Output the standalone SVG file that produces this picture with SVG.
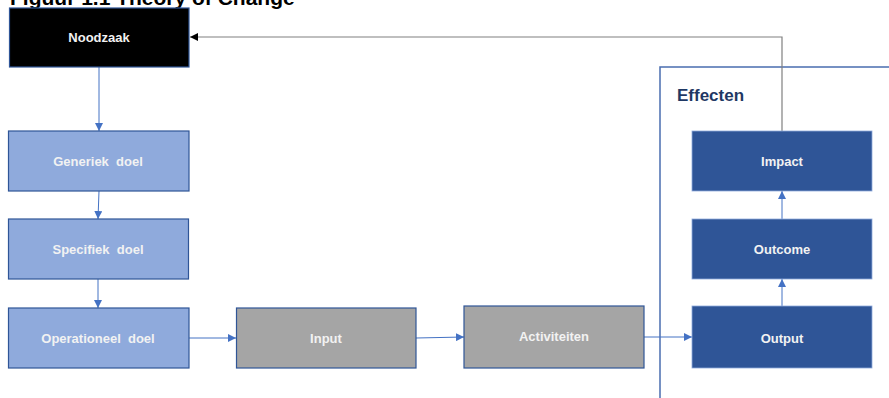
<svg xmlns="http://www.w3.org/2000/svg" width="889" height="398" viewBox="0 0 889 398">
<defs>
<style>
.t{font-family:"Liberation Sans",Arial,sans-serif;font-weight:bold;font-size:13px;fill:#F2F2F2;text-anchor:middle;white-space:pre}
.goal{fill:#8FAADC;stroke:#2F5597;stroke-width:1.2}
.act{fill:#A5A5A5;stroke:#2F5597;stroke-width:1.2}
.eff{fill:#2F5597;stroke:#8FAADC;stroke-width:0.8}
.c{fill:none;stroke:#4472C4;stroke-width:1;marker-end:url(#ab)}
</style>
<marker id="ab" viewBox="0 0 10 10" refX="10" refY="5" markerWidth="8" markerHeight="8" markerUnits="userSpaceOnUse" orient="auto"><path d="M0,0L10,5L0,10z" fill="#4472C4"/></marker>
<marker id="ag" viewBox="0 0 10 10" refX="10" refY="5" markerWidth="8" markerHeight="8" markerUnits="userSpaceOnUse" orient="auto"><path d="M0,0L10,5L0,10z" fill="#000"/></marker>
</defs>
<rect width="889" height="398" fill="#fff"/>
<text x="10" y="4.5" font-family="'Liberation Sans',Arial,sans-serif" font-weight="bold" font-size="21" fill="#000">Figuur 1.1 Theory of Change</text>
<g id="frame">
<path d="M889,67H660V398" fill="none" stroke="#4A6DB0" stroke-width="1.5"/>
<text x="677" y="101" font-family="'Liberation Sans',Arial,sans-serif" font-weight="bold" font-size="17" fill="#1F3864">Effecten</text>
</g>
<g id="connectors">
<path d="M782,131V37H190" fill="none" stroke="#808080" stroke-width="1.2" marker-end="url(#ag)"/>
<path class="c" d="M99,67V131"/>
<path class="c" d="M99,191L98,219"/>
<path class="c" d="M98,279L98,308"/>
<path class="c" d="M189,338H236"/>
<path class="c" d="M416,338L464,337"/>
<path class="c" d="M644,337H692"/>
<path class="c" d="M782,306V279"/>
<path class="c" d="M782,219V191"/>
</g>
<g id="noodzaak"><rect x="9.5" y="8" width="179.5" height="59" fill="#000" stroke="#2F5597" stroke-width="1.2"/><text class="t" x="99" y="42">Noodzaak</text></g>
<g id="generiek"><rect class="goal" x="8.5" y="131" width="180.5" height="60"/><text class="t" x="98" y="166" xml:space="preserve">Generiek  doel</text></g>
<g id="specifiek"><rect class="goal" x="8.5" y="219" width="180" height="60"/><text class="t" x="98" y="254" xml:space="preserve">Specifiek  doel</text></g>
<g id="operationeel"><rect class="goal" x="8.5" y="308" width="180.5" height="60"/><text class="t" x="98" y="343" xml:space="preserve">Operationeel  doel</text></g>
<g id="input"><rect class="act" x="236.5" y="308" width="179.5" height="60"/><text class="t" x="326" y="343">Input</text></g>
<g id="activiteiten"><rect class="act" x="464" y="306" width="180" height="62"/><text class="t" x="554" y="341">Activiteiten</text></g>
<g id="impact"><rect class="eff" x="692" y="131" width="180" height="60"/><text class="t" x="782" y="166">Impact</text></g>
<g id="outcome"><rect class="eff" x="692" y="219" width="180" height="60"/><text class="t" x="782" y="254">Outcome</text></g>
<g id="output"><rect class="eff" x="692" y="306" width="180" height="62"/><text class="t" x="782" y="343">Output</text></g>
</svg>
